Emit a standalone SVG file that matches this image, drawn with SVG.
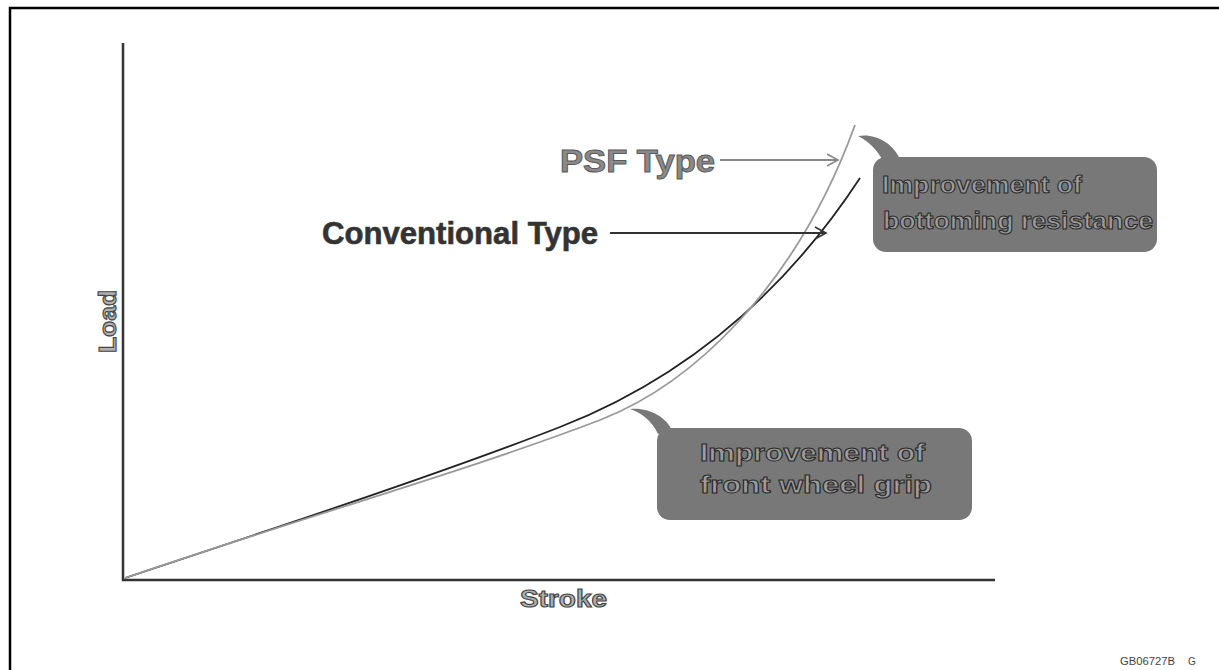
<svg xmlns="http://www.w3.org/2000/svg" width="1219" height="670" viewBox="0 0 1219 670">
<style>
.frame{fill:none;stroke:#000;stroke-width:2.5}
.axis{fill:none;stroke:#333;stroke-width:2.5}
.curve{fill:none;stroke-width:1.8}
.box{fill:#787878}
.ctext{font-family:"Liberation Sans",Arial,sans-serif;font-size:24px;font-weight:bold;fill:#9c9c9c;stroke:#2a2a2a;stroke-width:1}
.axlabel{font-family:"Liberation Sans",Arial,sans-serif;font-size:24px;font-weight:bold;fill:#b0b0b0;stroke:#444;stroke-width:1.1}
</style>
<defs>
<marker id="arrGray" markerWidth="14" markerHeight="14" refX="12" refY="7" orient="auto" markerUnits="userSpaceOnUse">
<path d="M1,1 L12,7 L1,13" fill="none" stroke="#888" stroke-width="1.6"/>
</marker>
<marker id="arrDark" markerWidth="14" markerHeight="14" refX="12" refY="7" orient="auto" markerUnits="userSpaceOnUse">
<path d="M1,1 L12,7 L1,13" fill="none" stroke="#333" stroke-width="1.6"/>
</marker>
</defs>
<rect width="1219" height="670" fill="#fff"/>
<g id="frame">
<path class="frame" d="M10,670 L10,8 L1219,8"/>
</g>
<g id="axes">
<path class="axis" d="M123,43 L123,580 L995,580"/>
<text class="axlabel" transform="translate(116,353) rotate(-90)" textLength="63" lengthAdjust="spacingAndGlyphs">Load</text>
<text class="axlabel" x="520" y="607" textLength="87" lengthAdjust="spacingAndGlyphs">Stroke</text>
</g>
<g id="curves">
<path id="conventional-curve" class="curve" stroke="#222" d="M125,578 C300,520 450,470 560,427 C680,380 780,300 860,178"/>
<path id="psf-curve" class="curve" stroke="#999" d="M125,578 C300,518 470,470 600,420 C690,385 795,290 855,125"/>
</g>
<g id="psf-label">
<text x="560" y="172" font-family="'Liberation Sans',Arial,sans-serif" font-size="32" font-weight="bold" fill="#8a8a8a" stroke="#5a5a5a" stroke-width="1" textLength="155" lengthAdjust="spacingAndGlyphs">PSF Type</text>
</g>
<g id="conventional-label">
<text x="322" y="244" font-family="'Liberation Sans',Arial,sans-serif" font-size="31" font-weight="bold" fill="#333" stroke="#333" stroke-width="0.6" textLength="276" lengthAdjust="spacingAndGlyphs">Conventional Type</text>
</g>
<g id="connectors">
<line x1="720" y1="160" x2="838" y2="160" stroke="#888" stroke-width="1.8" marker-end="url(#arrGray)"/>
<line x1="610" y1="233" x2="826" y2="233" stroke="#333" stroke-width="1.8" marker-end="url(#arrDark)"/>
</g>
<g id="callout-bottoming">
<path class="box" d="M858,136 C875,133 893,143 900,159 L884,163 C878,150 868,141 858,136 Z"/>
<rect class="box" x="873" y="157" width="284" height="95" rx="13"/>
<text class="ctext" x="882" y="193" textLength="200" lengthAdjust="spacingAndGlyphs">Improvement of</text>
<text class="ctext" x="883" y="229" textLength="270" lengthAdjust="spacingAndGlyphs">bottoming resistance</text>
</g>
<g id="callout-grip">
<path class="box" d="M630,409 C648,407 665,416 672,430 L658,434 C652,421 642,413 630,409 Z"/>
<rect class="box" x="657" y="428" width="315" height="92" rx="13"/>
<text class="ctext" x="700" y="461" textLength="225" lengthAdjust="spacingAndGlyphs">Improvement of</text>
<text class="ctext" x="700" y="493" textLength="232" lengthAdjust="spacingAndGlyphs">front wheel grip</text>
</g>
<g id="code">
<text x="1120" y="665" font-family="'Liberation Sans',Arial,sans-serif" font-size="10" fill="#444" textLength="55" lengthAdjust="spacingAndGlyphs">GB06727B</text>
<text x="1188" y="665" font-family="'Liberation Sans',Arial,sans-serif" font-size="10" fill="#444">G</text>
</g>
</svg>
